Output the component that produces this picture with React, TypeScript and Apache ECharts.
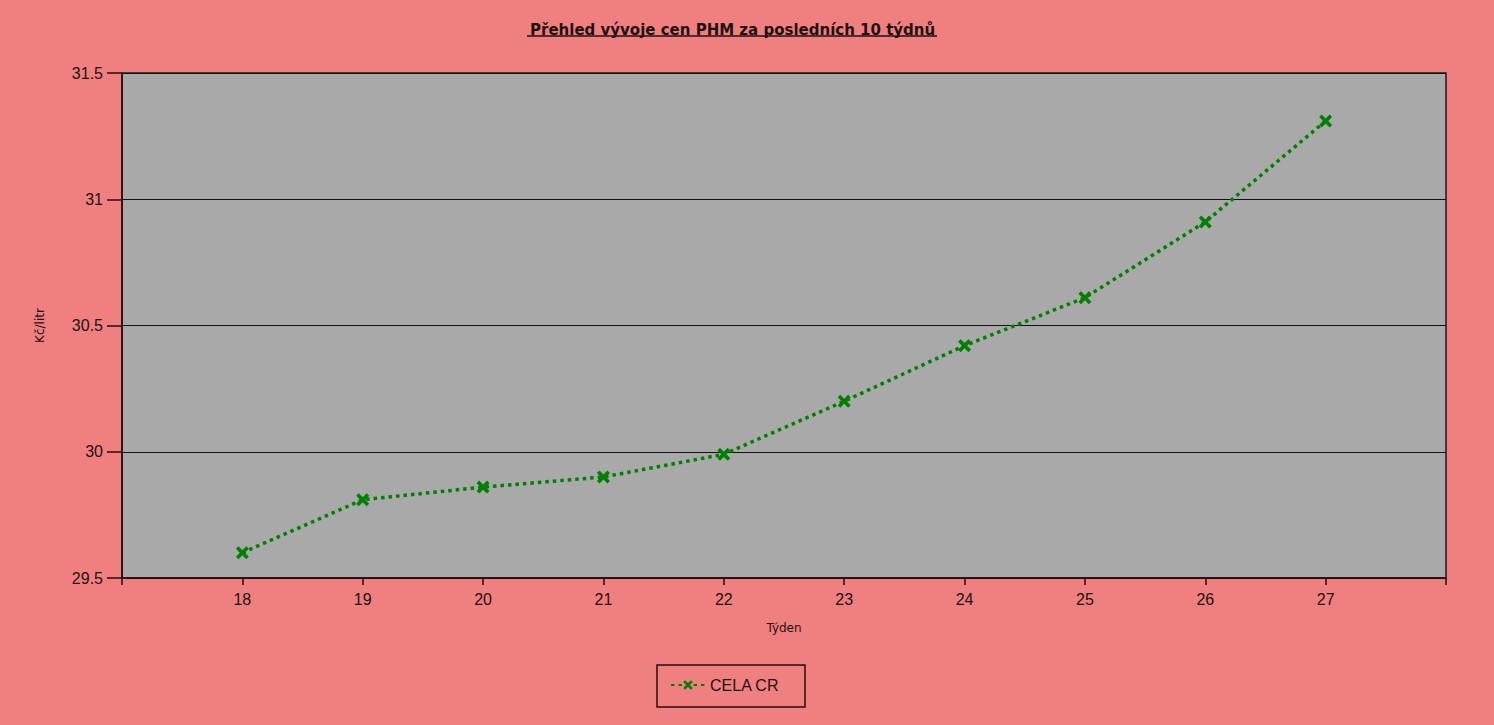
import React, { useEffect, useRef } from "react";
import * as echarts from "echarts";

const weeks = [18, 19, 20, 21, 22, 23, 24, 25, 26, 27];
const celaCr = [29.6, 29.81, 29.86, 29.9, 29.99, 30.2, 30.42, 30.61, 30.91, 31.31];
const titleText = "Přehled vývoje cen PHM za posledních 10 týdnů";
const seriesName = "CELA CR";

const crossPath =
  "path://M0,2 L2,0 L5,3 L8,0 L10,2 L7,5 L10,8 L8,10 L5,7 L2,10 L0,8 L3,5 Z";

export default function App() {
  const ref = useRef<HTMLDivElement>(null);
  useEffect(() => {
    if (!ref.current) return;
    const chart = echarts.init(ref.current, null, { renderer: "svg" });
    const textColor = "#1f1010";
    const tickFont = "'Liberation Sans', sans-serif";
    chart.setOption({
      animation: false,
      backgroundColor: "#F08080",
      title: {
        text: titleText,
        left: 525,
        top: 17,
        textStyle: {
          fontFamily: "DejaVu Sans",
          fontWeight: "bold",
          fontSize: 15,
          color: textColor,
        },
      },
      graphic: [
        {
          type: "line",
          shape: { x1: 527, y1: 36, x2: 937, y2: 36 },
          style: { stroke: textColor, lineWidth: 1.5 },
        },
        {
          type: "rect",
          shape: { x: 657, y: 665, width: 148, height: 42 },
          style: { fill: "none", stroke: "#2a0a0a", lineWidth: 1.5 },
        },
      ],
      legend: {
        left: 670,
        top: 677,
        padding: 0,
        itemWidth: 34,
        itemHeight: 12,
        itemGap: 7,
        textStyle: {
          fontFamily: "Liberation Sans",
          fontSize: 16,
          color: textColor,
        },
        data: [seriesName],
      },
      grid: {
        left: 122,
        right: 48,
        top: 73,
        bottom: 147,
        show: true,
        backgroundColor: "#A9A9A9",
        borderColor: "#1a1a1a",
        borderWidth: 1.5,
        containLabel: false,
      },
      xAxis: {
        type: "value",
        min: 17,
        max: 28,
        interval: 1,
        name: "Týden",
        nameLocation: "middle",
        nameGap: 44,
        nameTextStyle: { fontFamily: "DejaVu Sans", fontSize: 12, color: textColor },
        axisLine: { show: true, lineStyle: { color: "#2a0a0a", width: 1.5 } },
        axisTick: { show: true, length: 7, lineStyle: { color: "#2a0a0a", width: 1.5 } },
        splitLine: { show: false },
        axisLabel: {
          fontFamily: tickFont,
          fontSize: 16,
          color: textColor,
          margin: 13,
          formatter: (v: number) => (v < 18 || v > 27 ? "" : String(v)),
        },
      },
      yAxis: {
        type: "value",
        min: 29.5,
        max: 31.5,
        interval: 0.5,
        name: "Kč/litr",
        nameLocation: "middle",
        nameGap: 76,
        nameTextStyle: { fontFamily: "DejaVu Sans", fontSize: 12, color: textColor },
        axisLine: { show: true, lineStyle: { color: "#2a0a0a", width: 1.5 } },
        axisTick: { show: true, length: 15, lineStyle: { color: "#2a0a0a", width: 1.5 } },
        splitLine: { show: true, lineStyle: { color: "#111", width: 1.2 } },
        axisLabel: {
          fontFamily: tickFont,
          fontSize: 16,
          color: textColor,
          margin: 19,
          formatter: (v: number) => String(v),
        },
      },
      series: [
        {
          name: seriesName,
          type: "line",
          data: weeks.map((w, i) => [w, celaCr[i]]),
          symbol: crossPath,
          symbolSize: 13,
          showSymbol: true,
          itemStyle: { color: "#008000" },
          lineStyle: { color: "#008000", width: 3.5, type: [3.5, 4] },
        },
      ],
    });
    return () => chart.dispose();
  }, []);
  return <div ref={ref} style={{ width: 1494, height: 725, position: "absolute", left: 0, top: 0 }} />;
}
